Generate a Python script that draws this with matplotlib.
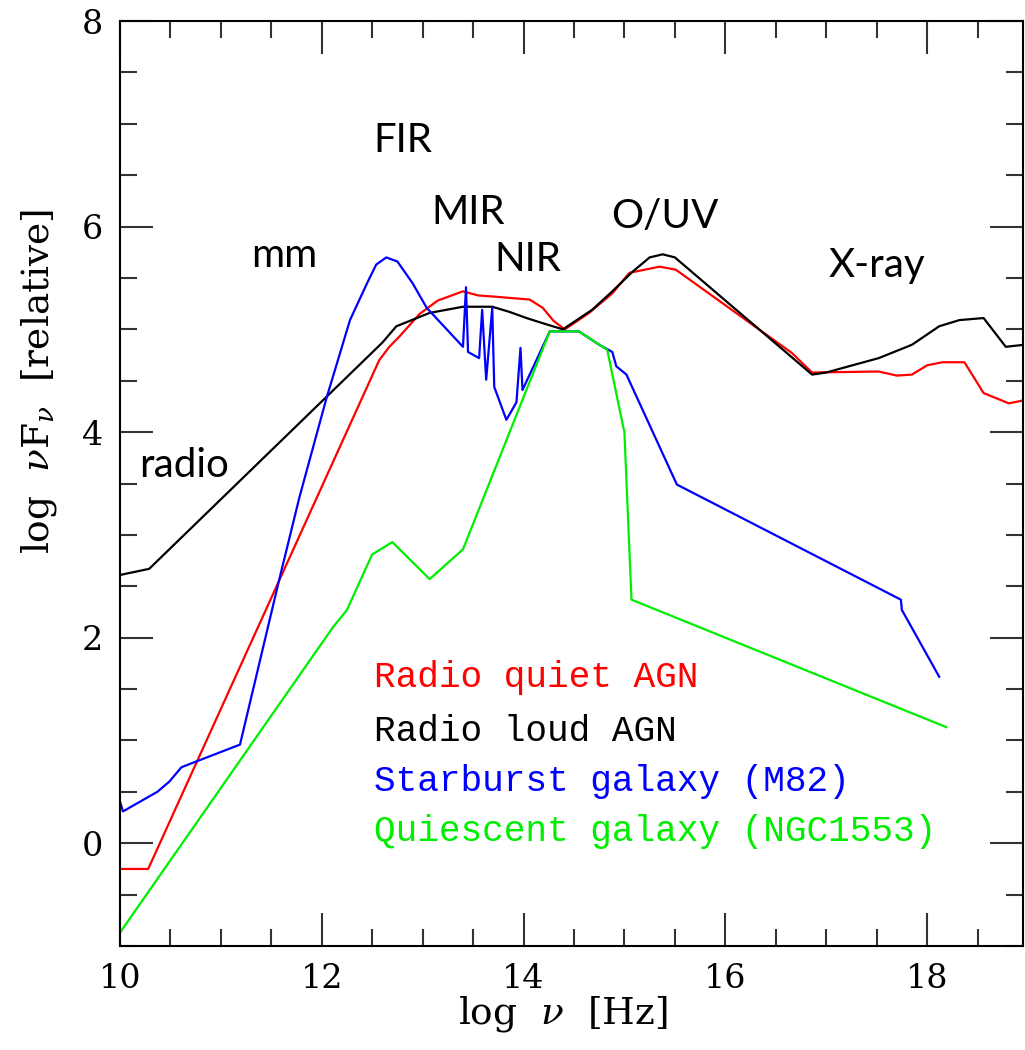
"""Broadband SEDs of AGN and galaxies, log nu F_nu vs log nu."""

import matplotlib

matplotlib.use("Agg")
import matplotlib.pyplot as plt
from matplotlib.ticker import MultipleLocator

# radio quiet AGN
rq_x = [10.0, 10.28, 12.57, 12.67, 12.77, 12.97, 13.15, 13.40, 13.55, 13.69, 14.06, 14.19,
        14.30, 14.41, 14.65, 14.88, 15.05, 15.20, 15.35, 15.51, 16.66, 16.86, 17.52, 17.70,
        17.85, 18.0, 18.15, 18.37, 18.56, 18.81, 18.96]
rq_y = [-0.25, -0.25, 4.70, 4.83, 4.93, 5.15, 5.28, 5.37, 5.33, 5.32, 5.29, 5.21,
        5.08, 5.0, 5.16, 5.35, 5.55, 5.58, 5.61, 5.58, 4.77, 4.58, 4.59, 4.55,
        4.56, 4.65, 4.68, 4.68, 4.38, 4.28, 4.31]

# radio loud AGN
rl_x = [10.0, 10.29, 12.60, 12.74, 13.07, 13.40, 13.69, 13.86, 14.03, 14.19, 14.39, 14.68,
        14.88, 15.08, 15.25, 15.38, 15.50, 16.86, 17.00, 17.52, 17.85, 18.12, 18.32, 18.56,
        18.78, 18.96]
rl_y = [2.61, 2.67, 4.87, 5.03, 5.16, 5.22, 5.22, 5.17, 5.11, 5.06, 5.0, 5.19,
        5.37, 5.56, 5.70, 5.73, 5.70, 4.56, 4.58, 4.72, 4.85, 5.03, 5.09, 5.11,
        4.83, 4.85]

# starburst galaxy M82
sb_x = [10.0, 10.03, 10.37, 10.49, 10.61, 11.19, 11.58, 11.78, 12.05, 12.28, 12.45, 12.54,
        12.64, 12.75, 12.90, 13.04, 13.40, 13.43, 13.45, 13.56, 13.59, 13.63, 13.69, 13.71,
        13.83, 13.93, 13.97, 13.99, 14.26, 14.55, 14.75, 14.88, 14.92, 15.02, 15.52, 17.74,
        17.75, 18.12]
sb_y = [0.41, 0.31, 0.50, 0.60, 0.74, 0.96, 2.57, 3.37, 4.34, 5.09, 5.45, 5.63,
        5.70, 5.66, 5.45, 5.21, 4.83, 5.41, 4.78, 4.72, 5.19, 4.51, 5.21, 4.44,
        4.12, 4.29, 4.82, 4.41, 4.98, 4.98, 4.85, 4.78, 4.64, 4.56, 3.49, 2.37,
        2.27, 1.62]

# quiescent galaxy NGC1553
qg_x = [10.0, 12.11, 12.25, 12.50, 12.70, 13.07, 13.40, 14.26, 14.55, 14.83, 14.98, 15.0,
        15.07, 18.19]
qg_y = [-0.87, 2.10, 2.27, 2.81, 2.93, 2.57, 2.86, 4.98, 4.98, 4.80, 4.09, 4.0,
        2.37, 1.13]

series_labels = ["Radio quiet AGN", "Radio loud AGN", "Starburst galaxy (M82)",
                 "Quiescent galaxy (NGC1553)"]
series_colors = ["#ff0000", "#000000", "#0000ff", "#00ee00"]

band_labels = ["radio", "mm", "FIR", "MIR", "NIR", "O/UV", "X-ray"]
band_x = [10.64, 11.63, 12.80, 13.45, 14.04, 15.40, 17.50]
band_y = [3.68, 5.72, 6.84, 6.14, 5.68, 6.10, 5.62]

plt.rcParams["mathtext.fontset"] = "dejavuserif"

fig = plt.figure(figsize=(10.25, 10.5), dpi=100)
ax = fig.add_axes([0.117, 0.099, 0.881, 0.881])

for xs, ys, color in zip([rq_x, rl_x, sb_x, qg_x], [rq_y, rl_y, sb_y, qg_y], series_colors):
    ax.plot(xs, ys, color=color, lw=1.6)

ax.set_xlim(10, 18.95)
ax.set_ylim(-1, 8)
ax.xaxis.set_major_locator(MultipleLocator(2))
ax.xaxis.set_minor_locator(MultipleLocator(0.5))
ax.yaxis.set_major_locator(MultipleLocator(2))
ax.yaxis.set_minor_locator(MultipleLocator(0.5))
ax.tick_params(which="both", direction="in", top=True, right=True, width=1.5, color="#333333")
ax.tick_params(which="major", length=24, labelsize=24, pad=12)
ax.tick_params(which="minor", length=12)
for label in ax.get_xticklabels() + ax.get_yticklabels():
    label.set_family("DejaVu Serif")
for spine in ax.spines.values():
    spine.set_linewidth(1.5)

ax.set_xlabel(r"log  $\nu$  [Hz]", fontsize=27, family="DejaVu Serif")
ax.set_ylabel(r"log  $\nu$F$_\nu$  [relative]", fontsize=27, family="DejaVu Serif")
ax.xaxis.set_label_coords(0.49, -0.052)
ax.yaxis.set_label_coords(-0.068, 0.61)

# legend drawn as coloured text lines
legend_y = [1.61, 1.09, 0.60, 0.11]
for text, color, y in zip(series_labels, series_colors, legend_y):
    ax.text(12.52, y, text, color=color, fontsize=26, family="Liberation Mono", va="center")

for text, x, y in zip(band_labels, band_x, band_y):
    ax.text(x, y, text, fontsize=29, family="Lato", ha="center", va="center")

fig.savefig("out.png", dpi=100)
